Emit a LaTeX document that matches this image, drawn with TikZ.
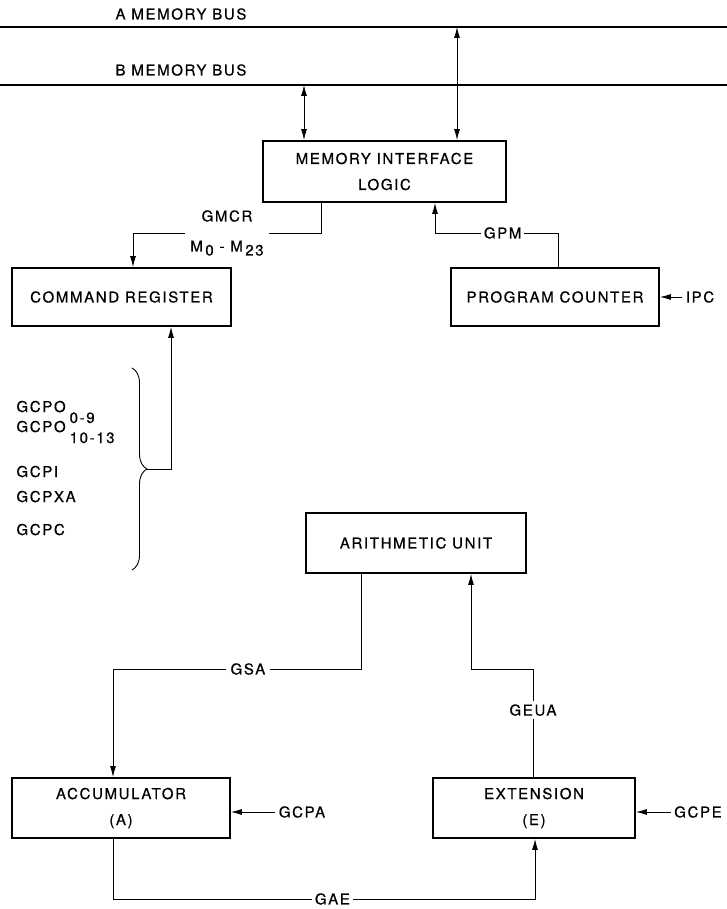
\documentclass[tikz,border=0pt]{standalone}
\usepackage{fontspec}
\setmainfont{TeX Gyre Heros}[LetterSpace=11, FakeBold=0.6]
\usetikzlibrary{arrows.meta, decorations.pathreplacing}

\begin{document}
\begin{tikzpicture}[>={Latex[length=11pt,width=6pt]}, x=1pt, y=-1pt,
  every node/.style={font=\fontsize{15}{26}\selectfont},
  box/.style={draw, line width=1.8pt, align=center, inner sep=0pt},
  lbl/.style={fill=white, inner sep=4pt},
  wire/.style={line width=0.9pt},
  bus/.style={line width=1.2pt}]
\useasboundingbox (0,0) rectangle (727,909);

% the two memory buses
\draw[bus] (0,27) -- (727,27);
\draw[bus] (0,85) -- (727,85);
\node[anchor=west] (abus label) at (112,14) {A MEMORY BUS};
\node[anchor=west] (bbus label) at (112,70) {B MEMORY BUS};
\coordinate (abus) at (457,27);
\coordinate (bbus) at (304,85);

% boxes
\node[box, minimum width=243pt, minimum height=61pt] (mil) at (384.5,171.5) {MEMORY INTERFACE\\LOGIC};
\node[box, minimum width=219pt, minimum height=58pt] (cr) at (121.5,297) {COMMAND REGISTER};
\node[box, minimum width=208pt, minimum height=58pt] (pc) at (555,297) {PROGRAM COUNTER};
\node[box, minimum width=220pt, minimum height=60pt] (au) at (416,543) {ARITHMETIC UNIT};
\node[box, minimum width=218pt, minimum height=60pt] (acc) at (121,808) {ACCUMULATOR\\(A)};
\node[box, minimum width=202pt, minimum height=60pt] (ext) at (534,808) {EXTENSION\\(E)};

% bus <-> interface
\draw[wire, <->] (abus) -- (abus |- mil.north);
\draw[wire, <->] (bbus) -- (bbus |- mil.north);

% interface -> command register
\coordinate (gmcr r) at (321,233);
\coordinate (gmcr l) at (133,233);
\draw[wire, ->] (gmcr r |- mil.south) -- (gmcr r)
  -- node[lbl, pos=0.5, align=center, inner xsep=5pt] {GMCR\\[4pt]M\,\raisebox{-4pt}{0}\ -\ M\,\raisebox{-4pt}{23}} (gmcr l)
  -- (gmcr l |- cr.north);

% program counter -> interface
\coordinate (gpm r) at (558,233);
\coordinate (gpm l) at (435,233);
\draw[wire, ->] (gpm r |- pc.north) -- (gpm r)
  -- node[lbl, pos=0.45, inner xsep=3pt] {GPM} (gpm l)
  -- (gpm l |- mil.south);

\node (ipc) at (700,297) {IPC};
\draw[wire, ->] (ipc) -- (ipc -| pc.east);

% gate signals into the command register
\node[anchor=base west] (gcpo a) at (13,412) {GCPO\kern4pt\raisebox{-11pt}{0-9}};
\node[anchor=base west] (gcpo b) at (13,432) {GCPO\kern4pt\raisebox{-11pt}{10-13}};
\node[anchor=base west] (gcpi) at (13,477) {GCPI};
\node[anchor=base west] (gcpxa) at (13,502) {GCPXA};
\node[anchor=base west] (gcpc) at (13,535) {GCPC};

\coordinate (brace top) at (132,368);
\coordinate (brace bot) at (132,570);
\coordinate (brace tip) at (147,469);
\coordinate (brace turn) at (171,469);
\draw[wire, decorate, decoration={brace, amplitude=15pt}] (brace top) -- (brace bot);
\draw[wire, ->] (brace tip) -- (brace turn) -- (brace turn |- cr.south);

% arithmetic unit <-> accumulator / extension
\coordinate (gsa r) at (361,669);
\coordinate (gsa l) at (113,669);
\draw[wire, ->] (gsa r |- au.south) -- (gsa r)
  -- node[lbl, pos=0.456, inner xsep=5pt] {GSA} (gsa l)
  -- (gsa l |- acc.north);

\coordinate (geua b) at (533,669);
\coordinate (geua t) at (471,669);
\draw[wire, ->] (geua b |- ext.north) -- node[lbl, pos=0.62, inner ysep=3pt] {GEUA} (geua b)
  -- (geua t) -- (geua t |- au.south);

\node (gcpa) at (302,812) {GCPA};
\draw[wire, ->] (gcpa) -- (gcpa -| acc.east);
\node (gcpe) at (698,812) {GCPE};
\draw[wire, ->] (gcpe) -- (gcpe -| ext.east);

% accumulator -> extension
\coordinate (gae l) at (113,899);
\coordinate (gae r) at (535,899);
\draw[wire, ->] (gae l |- acc.south) -- (gae l)
  -- node[lbl, pos=0.52, inner xsep=3pt, inner ysep=1pt] {GAE} (gae r)
  -- (gae r |- ext.south);

\end{tikzpicture}
\end{document}
